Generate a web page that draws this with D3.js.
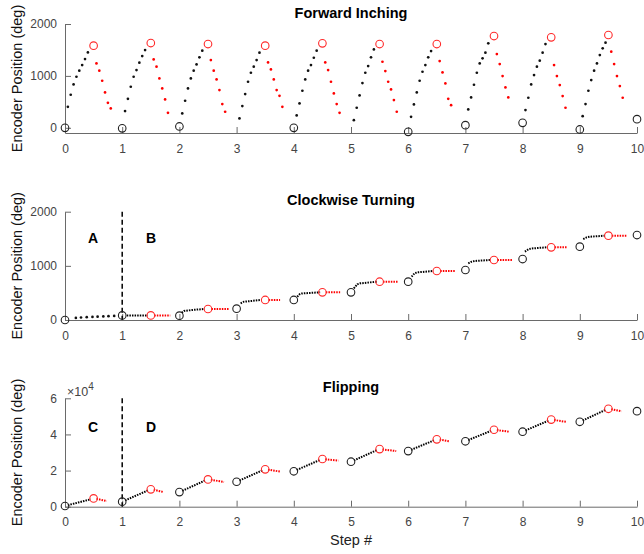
<!DOCTYPE html>
<html><head><meta charset="utf-8">
<script src="https://cdn.jsdelivr.net/npm/d3@7"></script>
<style>body{margin:0;background:#fff}svg{display:block}</style>
</head><body>
<svg id="c" width="644" height="554"></svg>
<script>
// ---------- data ----------
const xTicks = [0,1,2,3,4,5,6,7,8,9,10];
const steps = [0,1,2,3,4,5,6,7,8,9,10];

// Forward Inching
const fiStart = [0,-10,26,null,0,null,-77,51,96,-32,167];
const fiPeak = [1582,1633,1614,1582,1627,1614,1614,1768,1743,1788];
const fiRise = [
  [405,637,836,984,1100,1209,1325,1453],
  [322,559,791,984,1113,1254,1383,1498],
  [277,521,759,952,1100,1222,1357,1486],
  [180,418,650,887,1061,1177,1305,1447],
  [238,469,714,932,1100,1209,1350,1486],
  [148,386,624,862,1061,1190,1357,1511],
  [212,450,682,907,1080,1209,1357,1479],
  [354,585,830,1061,1241,1338,1447,1627],
  [341,579,836,1016,1177,1293,1447,1614],
  [225,457,714,920,1100,1241,1402,1531,1640]
];
const fiFall = [
  [1241,1100,907,682,482,373],
  [1318,1177,952,759,547,289],
  [1305,1100,932,727,457,309],
  [1260,1125,932,727,617,405],
  [1260,1113,887,662,457,289],
  [1273,1093,887,740,534,309],
  [1286,1068,855,559,437],
  [1421,1228,997,778,585],
  [1209,997,823,611,386],
  [1466,1228,997,804,579]
];
const fiYTicks = [0,1000,2000];

// Clockwise Turning
const cwCircle = [0,85,80,210,370,511,708,923,1126,1354,1569];
const cwPeak = [null,85,203,370,511,707,905,1108,1342,1557];
const cwApproachX = [0.19,0.28,0.38,0.48,0.57,0.67,0.76,0.86];
const cwApproach = [38,46,52,57,62,66,71,76];
const cwRiseX = [null,
  [1.08,1.45],
  [2.04,2.08,2.22,2.43],
  [3.07,3.13,3.42],
  [4.06,4.10,4.14,4.46],
  [5.05,5.11,5.16,5.45],
  [6.06,6.11,6.16,6.44],
  [7.05,7.11,7.16,7.43],
  [8.04,8.10,8.15,8.42],
  [9.06,9.12,9.17,9.44]
];
const cwRiseY = [null,
  [85,85],
  [135,166,185,203],
  [308,338,369],
  [430,474,490,511],
  [585,659,677,707],
  [800,862,880,905],
  [1046,1077,1090,1108],
  [1262,1305,1320,1342],
  [1495,1526,1538,1557]
];
const cwTrailEndX = [null,1.84,2.87,3.76,4.81,5.83,6.82,7.83,8.77,9.82];
const cwYTicks = [0,1000,2000];

// Flipping
const flCircle = [400,2800,8100,13800,19600,24900,30800,36200,41500,47000,52900];
const flPeak = [4600,9600,15100,20700,26400,31900,37300,42600,48200,54200];
const flRiseStart = [850,3500,8800,14500,20300,25600,31500,36900,42200,47700];
const flRiseEnd = [4100,9000,14500,20100,25800,31300,36700,42000,47600,53600];
const flTrailStart = [4400,9400,14900,20500,26200,31700,37100,42400,48000,54000];
const flTrailEndX = [0.73,1.72,2.78,3.77,4.78,5.79,6.72,7.77,8.77,9.73];
const flTrailEnd = [3100,8100,13700,19400,25500,30800,36200,41500,46900,52800];
const flYTicks = [0,20000,40000,60000];

const titles = ["Forward Inching","Clockwise Turning","Flipping"];
const yLabel = "Encoder Position (deg)";
const xLabel = "Step #";

// ---------- drawing ----------
const FONT = "'Liberation Sans', Arial, Helvetica, sans-serif";
const svg = d3.select("#c").style("font-family", FONT);
const x = d3.scaleLinear().domain([0,10]).range([65,637]);
const AX = "#6a6a6a", TXT = "#444", RED = "#ff0000", RCIRC = "#ff2a2a";

const panels = [
  {y: d3.scaleLinear().domain([-100,2000]).range([133,24]), ticks: fiYTicks, fmt: d3.format("d"), titleY: 18},
  {y: d3.scaleLinear().domain([0,2000]).range([320,211.7]), ticks: cwYTicks, fmt: d3.format("d"), titleY: 205},
  {y: d3.scaleLinear().domain([0,60000]).range([506.7,398.3]), ticks: flYTicks, fmt: d => d3.format("d")(d/10000), titleY: 392}
];

panels.forEach((p, i) => {
  const g = svg.append("g");
  const xa = g.append("g").attr("transform", `translate(0,${p.y.range()[0]})`)
    .call(d3.axisBottom(x).tickValues(xTicks).tickSizeInner(-6).tickSizeOuter(0).tickPadding(11).tickFormat(d3.format("d")));
  const ya = g.append("g").attr("transform", `translate(${x(0)},0)`)
    .call(d3.axisLeft(p.y).tickValues(p.ticks).tickSizeInner(-6).tickSizeOuter(0).tickPadding(8).tickFormat(p.fmt));
  [xa, ya].forEach(a => {
    a.select(".domain").attr("stroke", AX).attr("stroke-width", 1);
    a.selectAll(".tick line").attr("stroke", AX);
    a.selectAll(".tick text").attr("fill", TXT).style("font-size", "12px").style("font-family", FONT);
  });
  g.append("text").attr("x", 351).attr("y", p.titleY).attr("text-anchor", "middle")
    .style("font-size", "14.5px").style("font-weight", "bold").attr("fill", "#000").text(titles[i]);
  const mid = (p.y.range()[0] + p.y.range()[1]) / 2;
  g.append("text").attr("transform", `translate(22,${mid}) rotate(-90)`).attr("text-anchor", "middle")
    .style("font-size", "14.5px").attr("fill", "#111").text(yLabel);
});

// x label
svg.append("text").attr("x", 351).attr("y", 545).attr("text-anchor", "middle")
  .style("font-size", "14.5px").attr("fill", "#222").text(xLabel);
// exponent
const ex = svg.append("text").attr("x", 67).attr("y", 396).attr("fill", TXT).style("font-size", "12.5px");
ex.append("tspan").text("\u00d710");
ex.append("tspan").attr("dy", -6).style("font-size", "10px").text("4");

const dot = (sel, data, color, r) => sel.selectAll(null).data(data).join("circle")
  .attr("cx", d => x(d[0])).attr("cy", d => d[1]).attr("r", r).attr("fill", color);
const ring = (sel, data, color) => sel.selectAll(null).data(data).join("circle")
  .attr("cx", d => x(d[0])).attr("cy", d => d[1]).attr("r", 3.8).attr("fill", "none")
  .attr("stroke", color).attr("stroke-width", 1.1);

// Panel 1
{
  const y = panels[0].y, g = svg.append("g");
  const blacks = [], reds = [];
  fiRise.forEach((arr, s) => arr.forEach((v, k) => blacks.push([steps[s] + 0.05*(k+1), y(v)])));
  fiFall.forEach((arr, s) => arr.forEach((v, k) => reds.push([steps[s] + 0.5 + 0.05*(k+1), y(v)])));
  dot(g, blacks, "#111", 1.35);
  dot(g, reds, RED, 1.35);
  ring(g, fiPeak.map((v, s) => [steps[s] + 0.5, y(v)]), RCIRC);
  ring(g, fiStart.map((v, s) => [steps[s], v]).filter(d => d[1] !== null).map(d => [d[0], y(d[1])]), "#222");
}

const dotted = (g, pts, color) => g.append("path")
  .attr("d", d3.line().x(d => x(d[0])).y(d => d[1])(pts))
  .attr("fill", "none").attr("stroke", color).attr("stroke-width", 2)
  .attr("stroke-dasharray", "1.5,1.1");

// Panel 2
{
  const y = panels[1].y, g = svg.append("g");
  g.append("line").attr("x1", x(1)).attr("x2", x(1)).attr("y1", y(2000)).attr("y2", y(0))
    .attr("stroke", "#000").attr("stroke-width", 1.5).attr("stroke-dasharray", "5,3");
  dot(g, cwApproachX.map((t, k) => [t, y(cwApproach[k])]), "#111", 1.35);
  cwRiseX.forEach((xs, s) => {
    if (!xs) return;
    dotted(g, xs.map((t, k) => [t, y(cwRiseY[s][k])]), "#000");
    dotted(g, [[steps[s] + 0.56, y(cwPeak[s])], [cwTrailEndX[s], y(cwPeak[s])]], RED);
  });
  ring(g, cwPeak.map((v, s) => [steps[s] + 0.5, v]).filter(d => d[1] !== null).map(d => [d[0], y(d[1])]), RCIRC);
  ring(g, cwCircle.map((v, s) => [steps[s], y(v)]), "#222");
  g.append("text").attr("x", 93).attr("y", 243).attr("text-anchor", "middle").style("font-size", "14px").style("font-weight", "bold").text("A");
  g.append("text").attr("x", 151).attr("y", 243).attr("text-anchor", "middle").style("font-size", "14px").style("font-weight", "bold").text("B");
}

// Panel 3
{
  const y = panels[2].y, g = svg.append("g");
  g.append("line").attr("x1", x(1)).attr("x2", x(1)).attr("y1", y(60000)).attr("y2", y(0))
    .attr("stroke", "#000").attr("stroke-width", 1.5).attr("stroke-dasharray", "5,3");
  flPeak.forEach((v, s) => {
    dotted(g, [[steps[s] + 0.05, y(flRiseStart[s])], [steps[s] + 0.45, y(flRiseEnd[s])]], "#000");
    dotted(g, [[steps[s] + 0.55, y(flTrailStart[s])], [flTrailEndX[s], y(flTrailEnd[s])]], RED);
  });
  ring(g, flPeak.map((v, s) => [steps[s] + 0.5, y(v)]), RCIRC);
  ring(g, flCircle.map((v, s) => [steps[s], y(v)]), "#222");
  g.append("text").attr("x", 93).attr("y", 432).attr("text-anchor", "middle").style("font-size", "14px").style("font-weight", "bold").text("C");
  g.append("text").attr("x", 151).attr("y", 432).attr("text-anchor", "middle").style("font-size", "14px").style("font-weight", "bold").text("D");
}
</script>
</body></html>
